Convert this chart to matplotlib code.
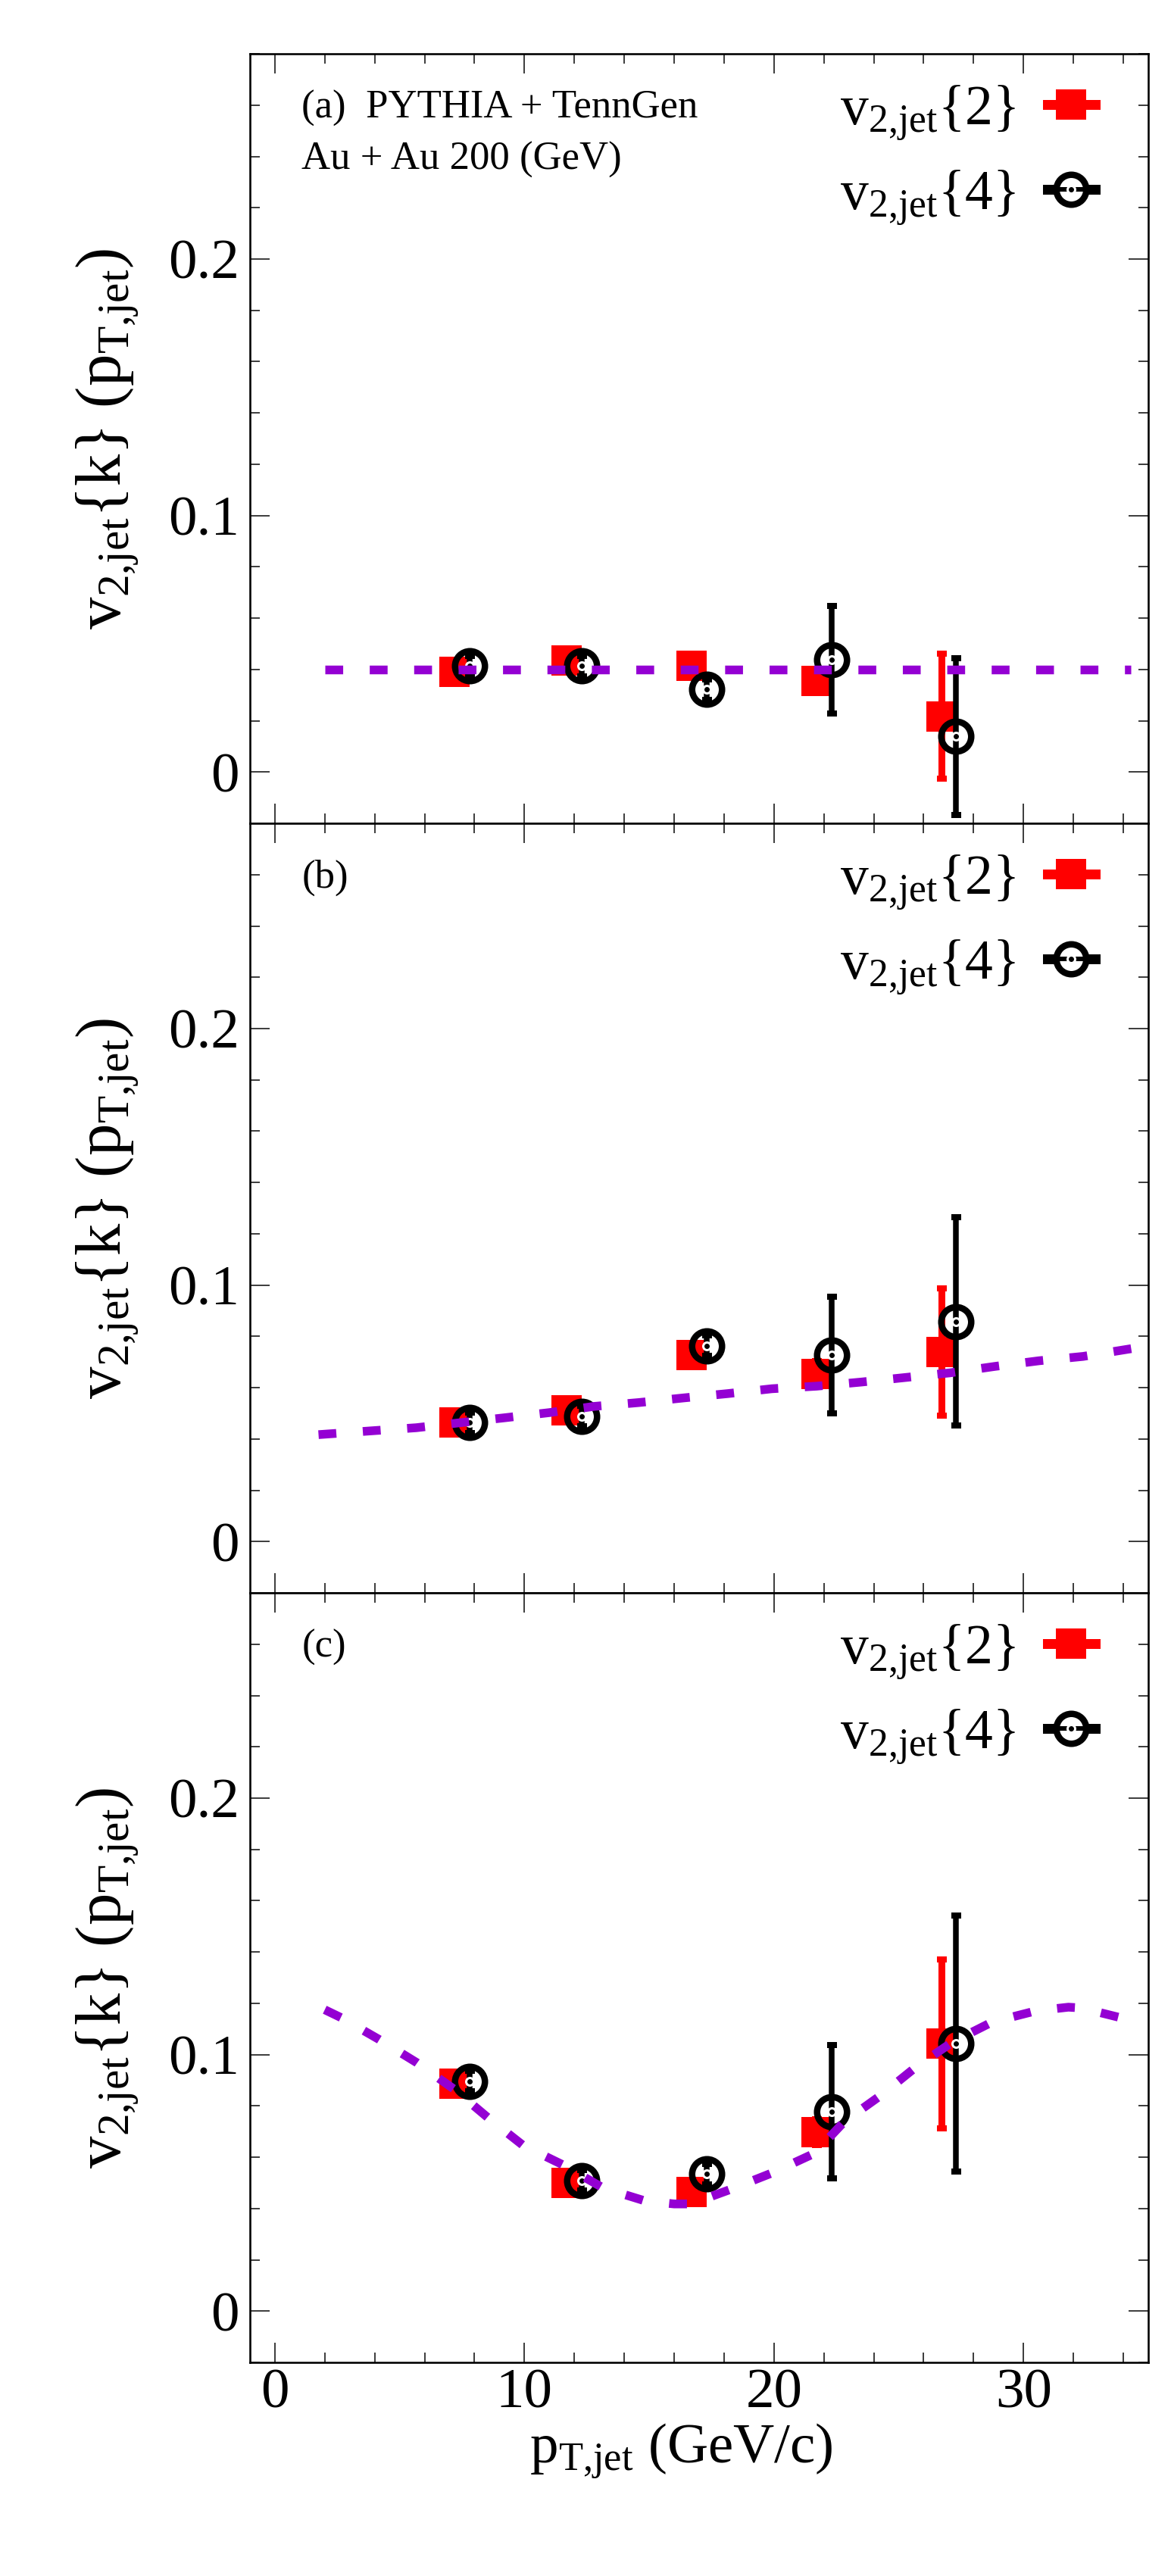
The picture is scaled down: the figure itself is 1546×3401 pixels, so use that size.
import matplotlib
matplotlib.use("Agg")
import matplotlib.pyplot as plt
from matplotlib.ticker import MultipleLocator
from matplotlib.lines import Line2D
from matplotlib.legend_handler import HandlerTuple

plt.rcParams['font.family'] = ['Liberation Serif', 'DejaVu Serif']
plt.rcParams['mathtext.fontset'] = 'custom'
plt.rcParams['mathtext.rm'] = 'Liberation Serif'
plt.rcParams['mathtext.it'] = 'Liberation Serif:italic'
plt.rcParams['mathtext.bf'] = 'Liberation Serif:bold'

# data
panel_tags = ["(a)  PYTHIA + TennGen", "(b)", "(c)"]
x_k2 = [7.2, 11.7, 16.7, 21.7, 26.7]
x_k4 = [7.8, 12.3, 17.3, 22.3, 27.3]

v2_k2_a = [0.0390, 0.0436, 0.0413, 0.0356, 0.0218]
e2_k2_a = [0.003, 0.003, 0.003, 0.003, 0.0243]
v2_k4_a = [0.0414, 0.0414, 0.0322, 0.0437, 0.0139]
e2_k4_a = [0.004, 0.004, 0.004, 0.0210, 0.0305]

v2_k2_b = [0.0465, 0.0513, 0.0727, 0.0655, 0.0739]
e2_k2_b = [0.003, 0.003, 0.004, 0.005, 0.0249]
v2_k4_b = [0.0464, 0.0489, 0.0764, 0.0727, 0.0858]
e2_k4_b = [0.004, 0.004, 0.004, 0.0227, 0.0406]

v2_k2_c = [0.0888, 0.0501, 0.0465, 0.0698, 0.1042]
e2_k2_c = [0.003, 0.003, 0.003, 0.005, 0.0330]
v2_k4_c = [0.0897, 0.0510, 0.0534, 0.0777, 0.1042]
e2_k4_c = [0.004, 0.004, 0.004, 0.0259, 0.0499]

# fit curves
fit_x_a = [2.0, 34.3]
fit_y_a = [0.040, 0.040]
fit_x_b = [1.75, 3.89, 5.67, 7.47, 9.23, 11.01, 12.78, 14.58, 16.36, 18.15,
           19.92, 21.71, 23.50, 25.29, 27.06, 28.85, 30.62, 32.39, 34.5]
fit_y_b = [0.0417, 0.0432, 0.0444, 0.0464, 0.0483, 0.0503, 0.0527, 0.0542, 0.0560, 0.0577,
           0.0596, 0.0606, 0.0622, 0.0640, 0.0658, 0.0683, 0.0705, 0.0722, 0.0755]
fit_x_c = [2.0, 2.66, 4.18, 5.70, 7.20, 8.53, 9.95, 11.55, 13.16, 14.86, 16.0, 16.67,
           18.24, 19.93, 21.62, 22.83, 24.28, 25.72, 27.17, 28.74, 30.51, 31.8, 32.32, 34.01, 34.5]
fit_y_c = [0.1175, 0.1144, 0.1059, 0.0968, 0.0864, 0.0755, 0.0646, 0.0570, 0.0480, 0.0429, 0.0418, 0.0418,
           0.0474, 0.0539, 0.0615, 0.0740, 0.0841, 0.0954, 0.1050, 0.1127, 0.1171, 0.1185, 0.1182, 0.1141, 0.1125]

ytick_vals = [0, 0.1, 0.2]
ytick_labels = ["0", "0.1", "0.2"]
xtick_vals = [0, 10, 20, 30]
xtick_labels = ["0", "10", "20", "30"]

panels = [
    (v2_k2_a, e2_k2_a, v2_k4_a, e2_k4_a, fit_x_a, fit_y_a),
    (v2_k2_b, e2_k2_b, v2_k4_b, e2_k4_b, fit_x_b, fit_y_b),
    (v2_k2_c, e2_k2_c, v2_k4_c, e2_k4_c, fit_x_c, fit_y_c),
]

violet = '#9400d3'
PX = 72.0 / 100  # points per pixel at dpi 100

fig, axes = plt.subplots(3, 1, figsize=(15.46, 34.01), dpi=100, sharex=True,
                         gridspec_kw=dict(hspace=0))
fig.subplots_adjust(left=0.2134, right=0.9806, top=0.9791, bottom=0.0829)

for i, ax in enumerate(axes):
    y2, e2, y4, e4, fx, fy = panels[i]

    ax.errorbar(x_k2, y2, yerr=e2, fmt='none', ecolor='red', elinewidth=9 * PX,
                capsize=6.5 * PX, capthick=8 * PX, zorder=2)
    ax.plot(x_k2, y2, 's', color='red', ms=40 * PX, mew=0, zorder=3)

    ax.plot(x_k4, y4, 'o', mfc='none', mec='black', ms=39.5 * PX, mew=8.5 * PX, zorder=4)
    ax.errorbar(x_k4, y4, yerr=e4, fmt='none', ecolor='black', elinewidth=7.5 * PX,
                capsize=6.5 * PX, capthick=8 * PX, zorder=5)
    ax.plot(x_k4, y4, 'o', mfc='black', mec='white', ms=10 * PX, mew=3 * PX, zorder=6)

    ax.plot(fx, fy, color=violet, lw=11.5 * PX, dashes=(2.05, 3.05),
            dash_capstyle='butt', zorder=7)

    ax.set_xlim(-1, 35)
    ax.set_ylim(-0.02, 0.28)
    ax.set_yticks(ytick_vals)
    ax.set_yticklabels(ytick_labels)
    ax.set_xticks(xtick_vals)
    ax.set_xticklabels(xtick_labels)
    ax.xaxis.set_minor_locator(MultipleLocator(2))
    ax.yaxis.set_minor_locator(MultipleLocator(0.02))
    ax.tick_params(which='both', direction='in', top=True, right=True,
                   width=2 * PX, color='#404040')
    ax.tick_params(which='major', length=26 * PX)
    ax.tick_params(which='minor', length=13 * PX)
    ax.tick_params(axis='y', which='major', labelsize=54, pad=10)
    ax.tick_params(axis='x', which='major', labelsize=54, pad=6)
    for sp in ax.spines.values():
        sp.set_linewidth(2.6 * PX)

    ax.set_ylabel(r'$\mathrm{v_{2{,}jet}\{k\}\ (p_{T{,}jet})}$', fontsize=61)
    ax.yaxis.set_label_coords(-0.1206, 0.5)

    ax.text(0.0578, 0.9165, panel_tags[i], transform=ax.transAxes,
            fontsize=38, va='baseline', ha='left')
    if i == 0:
        ax.text(0.0578, 0.8501, "Au + Au 200 (GeV)", transform=ax.transAxes,
                fontsize=38, va='baseline', ha='left')

    h2 = (Line2D([], [], color='red', lw=13 * PX),
          Line2D([], [], ls='none', marker='s', color='red', ms=40 * PX, mew=0))
    h4 = (Line2D([], [], color='black', lw=13 * PX),
          Line2D([], [], ls='none', marker='o', mfc='white', mec='black',
                 ms=39.5 * PX, mew=8.5 * PX),
          Line2D([], [], color='black', lw=6 * PX),
          Line2D([], [], ls='none', marker='o', mfc='black', mec='white',
                 ms=10 * PX, mew=3 * PX))
    ax.legend([h2, h4], [r'$\mathrm{v_{2{,}jet}\{2\}}$', r'$\mathrm{v_{2{,}jet}\{4\}}$'],
              handler_map={tuple: HandlerTuple(ndivide=1)},
              loc='upper right', bbox_to_anchor=(0.941, 0.962), frameon=False,
              fontsize=53, markerfirst=False, handlelength=0.86,
              handletextpad=0.57, labelspacing=0.48, borderpad=0, borderaxespad=0)

    if i < 2:
        ax.tick_params(axis='x', labelbottom=False)

axes[2].set_xlabel(r'$\mathrm{p_{T{,}jet}}$ (GeV/c)', fontsize=54)
axes[2].xaxis.set_label_coords(0.48, -0.0768)

fig.savefig("out.png", dpi=100)
